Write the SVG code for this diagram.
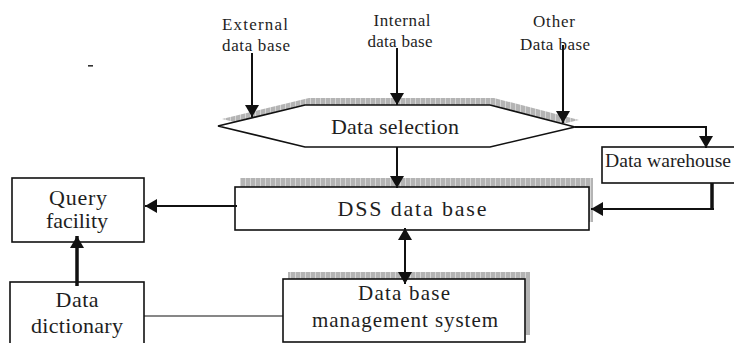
<svg xmlns="http://www.w3.org/2000/svg" width="734" height="343" viewBox="0 0 734 343">
<defs>
<style>
text{font-family:"Liberation Serif","Times New Roman",serif;fill:#1e1e1e;text-anchor:middle}
.box{fill:#fff;stroke:#111;stroke-width:1.6}
.sh{fill:url(#hatch);stroke:none}
.c{fill:none;stroke:#111;stroke-width:2}
.t{fill:none;stroke:#111;stroke-width:3.5}
.thin{fill:none;stroke:#111;stroke-width:1.2}
</style>
<pattern id="hatch" patternUnits="userSpaceOnUse" width="5" height="10">
<rect width="5" height="10" fill="#b4b4b4"/>
<line x1="0.5" y1="0" x2="0.5" y2="10" stroke="#d6d6d6" stroke-width="1"/>
</pattern>
<marker id="ah" viewBox="0 0 12 14" refX="12" refY="7" markerWidth="12" markerHeight="14" markerUnits="userSpaceOnUse" orient="auto">
<path d="M0,0 L12,7 L0,14 Z" fill="#111"/>
</marker>
<marker id="ahs" viewBox="0 0 12 14" refX="0" refY="7" markerWidth="12" markerHeight="14" markerUnits="userSpaceOnUse" orient="auto">
<path d="M12,0 L0,7 L12,14 Z" fill="#111"/>
</marker>
</defs>
<rect width="734" height="343" fill="#fff"/>
<rect x="88" y="65" width="5" height="1.6" fill="#333"/>

<g id="label-external">
<text x="255" y="30" font-size="17" textLength="66" lengthAdjust="spacing">External</text>
<text x="256" y="51" font-size="17" textLength="68" lengthAdjust="spacing">data base</text>
</g>
<g id="label-internal">
<text x="402" y="26" font-size="17" textLength="57" lengthAdjust="spacing">Internal</text>
<text x="400" y="47" font-size="17" textLength="65" lengthAdjust="spacing">data base</text>
</g>
<g id="label-other">
<text x="554" y="27" font-size="17" textLength="42" lengthAdjust="spacing">Other</text>
<text x="555" y="50" font-size="17" textLength="70" lengthAdjust="spacing">Data base</text>
</g>

<g id="data-selection">
<polygon class="sh" points="222,119 309,98 494,98 579,120 494,140 309,140"/>
<polygon class="box" points="218,126 305,105 490,105 575,127 490,147 305,147"/>
<text x="395" y="134" font-size="22" textLength="128" lengthAdjust="spacing">Data selection</text>
</g>

<g id="data-warehouse">
<rect class="box" x="602" y="147" width="140" height="36"/>
<text x="605" y="167" font-size="18.5" style="text-anchor:start" textLength="126" lengthAdjust="spacingAndGlyphs">Data warehouse</text>
</g>

<g id="dss-data-base">
<rect class="sh" x="240" y="178" width="353" height="44"/>
<rect class="box" x="235" y="187" width="354" height="43"/>
<text x="412" y="216" font-size="22" textLength="149" lengthAdjust="spacing">DSS data base</text>
</g>

<g id="query-facility">
<rect class="box" x="12" y="178" width="132" height="64"/>
<text x="78" y="205" font-size="22" textLength="58" lengthAdjust="spacing">Query</text>
<text x="77" y="228" font-size="22" textLength="62" lengthAdjust="spacing">facility</text>
</g>

<g id="dbms">
<rect class="sh" x="288" y="272" width="242" height="63"/>
<rect class="box" x="283" y="279" width="242" height="63"/>
<text x="404" y="300" font-size="21" textLength="92" lengthAdjust="spacing">Data base</text>
<text x="405" y="327" font-size="21" textLength="186" lengthAdjust="spacing">management system</text>
</g>

<g id="data-dictionary">
<rect class="box" x="10" y="282" width="134" height="70"/>
<text x="77" y="307" font-size="22" textLength="43" lengthAdjust="spacing">Data</text>
<text x="77" y="333" font-size="22" textLength="92" lengthAdjust="spacing">dictionary</text>
</g>

<g id="connectors">
<line class="c" x1="252" y1="53" x2="252" y2="117" marker-end="url(#ah)"/>
<line class="c" x1="397" y1="48" x2="397" y2="105" marker-end="url(#ah)"/>
<line class="c" x1="563" y1="45" x2="563" y2="123" marker-end="url(#ah)"/>
<line class="c" x1="397" y1="147" x2="397" y2="188" marker-end="url(#ah)"/>
<path class="c" d="M575,127 H706 V148" marker-end="url(#ah)"/>
<path class="t" d="M712,183 V209"/>
<path class="c" d="M714,209 H591" stroke-width="2.5" marker-end="url(#ah)"/>
<line class="c" x1="237" y1="206" x2="145" y2="206" stroke-width="2.5" marker-end="url(#ah)"/>
<line class="c" x1="405" y1="228" x2="405" y2="284" stroke-width="2.5" marker-start="url(#ahs)" marker-end="url(#ah)"/>
<line class="t" x1="77" y1="286" x2="77" y2="236" marker-end="url(#ah)"/>
<line class="thin" x1="144" y1="316" x2="283" y2="316"/>
</g>
</svg>
